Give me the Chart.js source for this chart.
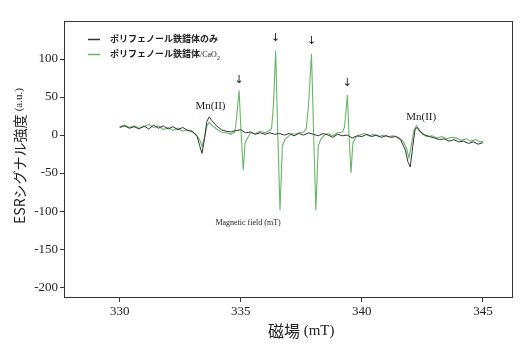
<!DOCTYPE html>
<html>
<head>
<meta charset="utf-8">
<script src="https://cdn.jsdelivr.net/npm/chart.js@4"></script>
<style>
  html, body { margin: 0; padding: 0; background: #fff; }
  #wrap { width: 530px; height: 350px; }
</style>
</head>
<body>
<div id="wrap"><canvas id="esrChart"></canvas></div>
<script>
// ポリフェノール鉄錯体のみ
const fieldBlack = [330.0, 330.2, 330.4, 330.6, 330.8, 331.0, 331.2, 331.4, 331.6, 331.8,
  332.0, 332.2, 332.4, 332.6, 332.8, 333.0, 333.2, 333.3, 333.4, 333.5, 333.6, 333.7, 333.8,
  334.0, 334.2, 334.4, 334.6, 334.8, 335.0, 335.2, 335.4, 335.6, 335.8, 336.0, 336.2, 336.4,
  336.6, 336.8, 337.0, 337.2, 337.4, 337.6, 337.8, 338.0, 338.2, 338.4, 338.6, 338.8, 339.0,
  339.2, 339.4, 339.6, 339.8, 340.0, 340.2, 340.4, 340.6, 340.8, 341.0, 341.2, 341.4, 341.6,
  341.8, 341.9, 342.0, 342.1, 342.2, 342.3, 342.4, 342.6, 342.8, 343.0, 343.2, 343.4, 343.6,
  343.8, 344.0, 344.2, 344.4, 344.6, 344.8, 345.0]
const signalBlack = [10, 12, 9, 11, 8, 12, 8, 13, 9, 12,
  8, 11, 7, 10, 6, 5, -2, -14, -24, -5, 18, 24, 19,
  12, 7, 5, 4, 6, 7, 3, 4, 1, 3, 1, 3, 1,
  2, 0, 2, -1, 2, 0, 3, 1, -1, 2, 0, -3, 1,
  -1, 0, -4, -1, -2, 1, -2, 0, -3, -1, -3, -2, -6,
  -20, -35, -42, -15, 8, 10, 5, 0, -2, -4, -6, -5, -8,
  -6, -9, -8, -11, -9, -12, -10]

// ポリフェノール鉄錯体/CaO2
const fieldGreen = [330.0, 330.2, 330.4, 330.6, 330.8, 331.0, 331.2, 331.4, 331.6, 331.8,
  332.0, 332.2, 332.4, 332.6, 332.8, 333.0, 333.15, 333.3, 333.4, 333.5, 333.6, 333.7, 333.8,
  334.0, 334.2, 334.4, 334.6, 334.75, 334.82, 334.93, 335.01, 335.1, 335.18, 335.28,
  335.4, 335.6, 335.8, 336.0, 336.2, 336.27, 336.35, 336.44, 336.53, 336.62, 336.72, 336.82,
  336.95, 337.1, 337.25, 337.4, 337.6, 337.7, 337.8, 337.92, 338.01, 338.1, 338.2, 338.3,
  338.45, 338.6, 338.8, 339.0, 339.2, 339.28, 339.34, 339.4, 339.47, 339.55, 339.63, 339.75,
  339.9, 340.1, 340.3, 340.5, 340.7, 340.9, 341.1, 341.3, 341.5, 341.7,
  341.85, 341.95, 342.05, 342.15, 342.25, 342.35, 342.5, 342.7, 342.9, 343.1, 343.3, 343.5,
  343.7, 343.9, 344.1, 344.3, 344.5, 344.7, 344.9, 345.0]
const signalGreen = [11, 13, 10, 12, 9, 11, 14, 10, 12, 7,
  10, 6, 9, 5, 7, 4, 1, -6, -15, -3, 12, 17, 13,
  8, 4, 3, 1, 4, 20, 59, 5, -46, -10, -4,
  3, 2, 5, 3, 6, 8, 40, 111, 0, -99, -14, -6,
  -2, 2, 1, 3, 4, 8, 40, 107, 0, -99, -14, -6,
  0, 2, -1, 3, 4, 10, 30, 53, 0, -50, -10, -3,
  0, 2, -1, 1, -2, 0, -2, -1, -3, -8,
  -18, -30, -12, 6, 12, 6, 1, -2, -1, -4, -2, -5,
  -3, -4, -7, -5, -8, -6, -9, -8]

const xTicks = [330, 335, 340, 345]
const yTicks = [-200, -150, -100, -50, 0, 50, 100]

// annotations (data coordinates)
const mnLabelField = [333.75, 342.45]
const mnLabelSignal = [38, 24]
const arrowField = [334.93, 336.44, 337.92, 339.40]
const arrowSignal = [72, 127, 124, 68]

const serif = "'Liberation Serif', 'Times New Roman', serif"
const jp = "'Noto Sans CJK JP', 'Noto Sans', sans-serif"
const black = '#333333'
const green = 'rgb(104, 182, 104)'

const toPoints = (xs, ys) => xs.map((x, i) => ({ x, y: ys[i] }))

const decorations = {
  id: 'decorations',
  afterDraw(chart) {
    const { ctx, chartArea: a, scales: { x, y } } = chart
    ctx.save()

    // frame
    ctx.strokeStyle = '#333'
    ctx.lineWidth = 1
    ctx.strokeRect(a.left + 0.5, a.top + 0.5, a.right - a.left, a.bottom - a.top)

    ctx.fillStyle = '#222'
    ctx.textBaseline = 'middle'
    ctx.textAlign = 'center'

    // Mn(II) labels
    ctx.font = '11px ' + serif
    mnLabelField.forEach((f, i) => {
      ctx.fillText('Mn(II)', x.getPixelForValue(f), y.getPixelForValue(mnLabelSignal[i]))
    })

    // arrows
    ctx.font = '11px DejaVu Sans'
    arrowField.forEach((f, i) => {
      ctx.fillText('↓', x.getPixelForValue(f), y.getPixelForValue(arrowSignal[i]))
    })

    // inner note
    ctx.font = '8px ' + serif
    ctx.fillText('Magnetic field (mT)', x.getPixelForValue(335.3), y.getPixelForValue(-116))

    // x title
    const xt1 = '磁場 '
    ctx.font = '15px ' + serif
    const w2 = ctx.measureText('(mT)').width
    ctx.font = '16px ' + jp
    const w1 = ctx.measureText(xt1).width
    let xc = x.getPixelForValue(337.5) - (w1 + w2) / 2
    ctx.textAlign = 'left'
    ctx.fillText(xt1, xc, 331)
    ctx.font = '15px ' + serif
    ctx.fillText('(mT)', xc + w1, 331)

    // y title, mixed fonts, rotated
    ctx.translate(20, (a.top + a.bottom) / 2 - 3)
    ctx.rotate(-Math.PI / 2)
    ctx.font = '14px ' + jp
    const yt1 = 'ESRシグナル強度 '
    const v1 = ctx.measureText(yt1).width
    ctx.font = '11px ' + serif
    const v2 = ctx.measureText('(a.u.)').width
    let yc = -(v1 + v2) / 2
    ctx.font = '14px ' + jp
    ctx.fillText(yt1, yc, 0)
    ctx.font = '11px ' + serif
    ctx.fillText('(a.u.)', yc + v1, -1)
    ctx.setTransform(1, 0, 0, 1, 0, 0)

    // legend
    const lx = a.left + 24
    const rows = [a.top + 18, a.top + 33]
    chart.data.datasets.forEach((ds, i) => {
      const ly = rows[i]
      ctx.strokeStyle = ds.borderColor
      ctx.lineWidth = 1.5
      ctx.beginPath()
      ctx.moveTo(lx, ly + 0.5)
      ctx.lineTo(lx + 12, ly + 0.5)
      ctx.stroke()
      ctx.fillStyle = '#222'
      ctx.textAlign = 'left'
      ctx.font = 'bold 9px ' + jp
      const base = 'ポリフェノール鉄錯体'
      ctx.fillText(base, lx + 22, ly)
      let tx = lx + 22 + ctx.measureText(base).width
      if (i === 0) {
        ctx.fillText('のみ', tx, ly)
      } else {
        ctx.font = '8px ' + serif
        ctx.fillText('/CaO', tx, ly + 1)
        tx += ctx.measureText('/CaO').width
        ctx.font = '6px ' + serif
        ctx.fillText('2', tx, ly + 4)
      }
    })
    ctx.restore()
  }
}

new Chart(document.getElementById('esrChart'), {
  type: 'line',
  data: {
    datasets: [
      {
        label: 'ポリフェノール鉄錯体のみ',
        data: toPoints(fieldBlack, signalBlack),
        borderColor: black,
        borderWidth: 1,
        pointRadius: 0,
        tension: 0,
        order: 1
      },
      {
        label: 'ポリフェノール鉄錯体/CaO₂',
        data: toPoints(fieldGreen, signalGreen),
        borderColor: green,
        borderWidth: 1.1,
        pointRadius: 0,
        tension: 0,
        order: 2
      }
    ]
  },
  options: {
    responsive: true,
    maintainAspectRatio: false,
    animation: false,
    layout: { padding: { top: 21, right: 18, left: 0, bottom: 0 } },
    plugins: {
      legend: { display: false },
      tooltip: { enabled: false }
    },
    scales: {
      x: {
        type: 'linear',
        min: 327.7,
        max: 346.2,
        afterBuildTicks: s => { s.ticks = xTicks.map(v => ({ value: v })) },
        afterFit: s => { s.height = 53 },
        grid: { drawOnChartArea: false, tickLength: 5, color: '#333' },
        border: { color: '#333' },
        ticks: { color: '#222', padding: 2, maxRotation: 0, font: { family: serif, size: 13 } }
      },
      y: {
        min: -213,
        max: 150,
        afterBuildTicks: s => { s.ticks = yTicks.map(v => ({ value: v })) },
        afterFit: s => { s.width = 64 },
        grid: { drawOnChartArea: false, tickLength: 4, color: '#333' },
        border: { color: '#333' },
        ticks: { color: '#222', padding: 2, font: { family: serif, size: 13 } }
      }
    }
  },
  plugins: [decorations]
})
</script>
</body>
</html>
